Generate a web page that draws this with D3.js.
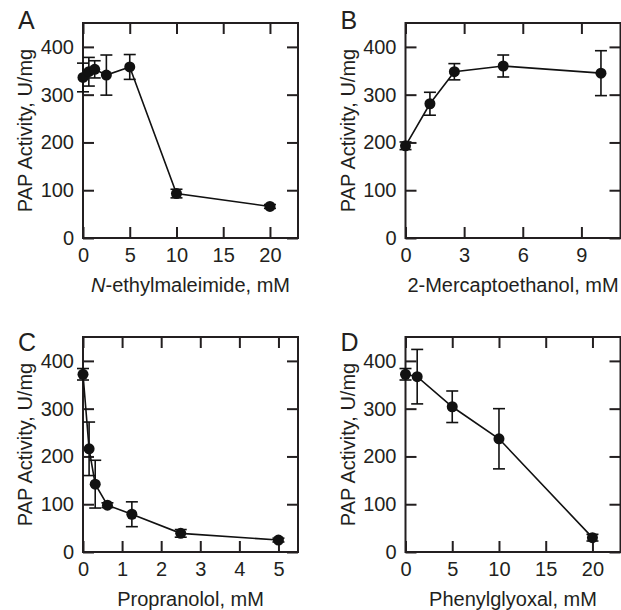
<!DOCTYPE html>
<html>
<head>
<meta charset="utf-8">
<script src="https://cdn.jsdelivr.net/npm/d3@7"></script>
<style>
  body { margin: 0; background: #fff; }
  text { font-family: "Liberation Sans", Arial, sans-serif; fill: #231f20; }
</style>
</head>
<body>
<svg id="chart" width="621" height="610"></svg>
<script>
// panel A: N-ethylmaleimide
let nemConc = [0, 0.625, 1.25, 2.5, 5, 10, 20];
let nemAct  = [336, 348, 353, 341, 358, 93, 66];
let nemErr  = [30, 30, 18, 42, 26, 9, 4];

// panel B: 2-mercaptoethanol
let meConc = [0, 1.25, 2.5, 5, 10];
let meAct  = [193, 281, 348, 360, 345];
let meErr  = [8, 24, 17, 23, 47];

// panel C: propranolol
let propConc = [0, 0.156, 0.3125, 0.625, 1.25, 2.5, 5];
let propAct  = [372, 216, 142, 98, 79, 39, 25];
let propErr  = [12, 56, 50, 5, 26, 8, 4];

// panel D: phenylglyoxal
let pgConc = [0, 1.25, 5, 10, 20];
let pgAct  = [372, 367, 304, 237, 30];
let pgErr  = [12, 57, 33, 63, 7];

let yTicks = [0, 100, 200, 300, 400];

const W = 215, H = 215, tick = 11;
let svg = d3.select("#chart");

let panels = [
  {label: "A", x: nemConc, y: nemAct, e: nemErr, xmax: 23, xticks: [0, 5, 10, 15, 20],
   title: ["N", "-ethylmaleimide, mM"], left: 83, top: 23},
  {label: "B", x: meConc, y: meAct, e: meErr, xmax: 11, xticks: [0, 3, 6, 9],
   title: ["", "2-Mercaptoethanol, mM"], left: 405.5, top: 23},
  {label: "C", x: propConc, y: propAct, e: propErr, xmax: 5.5, xticks: [0, 1, 2, 3, 4, 5],
   title: ["", "Propranolol, mM"], left: 83, top: 337},
  {label: "D", x: pgConc, y: pgAct, e: pgErr, xmax: 23, xticks: [0, 5, 10, 15, 20],
   title: ["", "Phenylglyoxal, mM"], left: 405.5, top: 337}
];

panels.forEach(function (p) {
  let g = svg.append("g").attr("transform", `translate(${p.left},${p.top})`);
  let x = d3.scaleLinear().domain([0, p.xmax]).range([0, W]);
  let y = d3.scaleLinear().domain([0, 450]).range([H, 0]);

  let style = function (a) {
    a.select(".domain").remove();
    a.selectAll(".tick line").attr("stroke", "#231f20").attr("stroke-width", 2);
    a.selectAll("text").style("font-size", "20px").attr("fill", "#231f20");
  };

  g.append("g").attr("transform", `translate(0,${H})`)
    .call(d3.axisBottom(x).tickValues(p.xticks).tickSize(-tick).tickPadding(10).tickFormat(d3.format("d")))
    .call(style);
  g.append("g")
    .call(d3.axisTop(x).tickValues(p.xticks).tickSize(-tick).tickFormat(""))
    .call(style);
  g.append("g")
    .call(d3.axisLeft(y).tickValues(yTicks).tickSize(-tick).tickPadding(9))
    .call(style);
  g.append("g").attr("transform", `translate(${W},0)`)
    .call(d3.axisRight(y).tickValues(yTicks).tickSize(-tick).tickFormat(""))
    .call(style);

  g.append("rect")
    .attr("width", W).attr("height", H)
    .attr("fill", "none").attr("stroke", "#231f20").attr("stroke-width", 2);

  let pts = p.x.map((d, i) => ({x: d, y: p.y[i], e: p.e[i]}));

  g.append("path").datum(pts)
    .attr("fill", "none").attr("stroke", "#111").attr("stroke-width", 1.6)
    .attr("d", d3.line().x(d => x(d.x)).y(d => y(d.y)));

  let eb = g.selectAll(".err").data(pts).enter().append("g");
  eb.append("line")
    .attr("x1", d => x(d.x)).attr("x2", d => x(d.x))
    .attr("y1", d => y(d.y - d.e)).attr("y2", d => y(d.y + d.e))
    .attr("stroke", "#111").attr("stroke-width", 1.6);
  [-1, 1].forEach(function (s) {
    eb.append("line")
      .attr("x1", d => x(d.x) - 6).attr("x2", d => x(d.x) + 6)
      .attr("y1", d => y(d.y + s * d.e)).attr("y2", d => y(d.y + s * d.e))
      .attr("stroke", "#111").attr("stroke-width", 1.6);
  });

  g.selectAll(".dot").data(pts).enter().append("circle")
    .attr("cx", d => x(d.x)).attr("cy", d => y(d.y)).attr("r", 5.5)
    .attr("fill", "#111");

  // axis titles
  let xt = g.append("text")
    .attr("x", W / 2).attr("y", H + 54)
    .attr("text-anchor", "middle").style("font-size", "20px");
  if (p.title[0]) xt.append("tspan").style("font-style", "italic").text(p.title[0]);
  xt.append("tspan").text(p.title[1]);

  g.append("text")
    .attr("transform", `translate(-51,${H / 2})rotate(-90)`)
    .attr("text-anchor", "middle").style("font-size", "20px")
    .text("PAP Activity, U/mg");

  g.append("text")
    .attr("x", -65).attr("y", p.top < 100 ? 6 : 14)
    .style("font-size", "25px")
    .text(p.label);
});
</script>
</body>
</html>
